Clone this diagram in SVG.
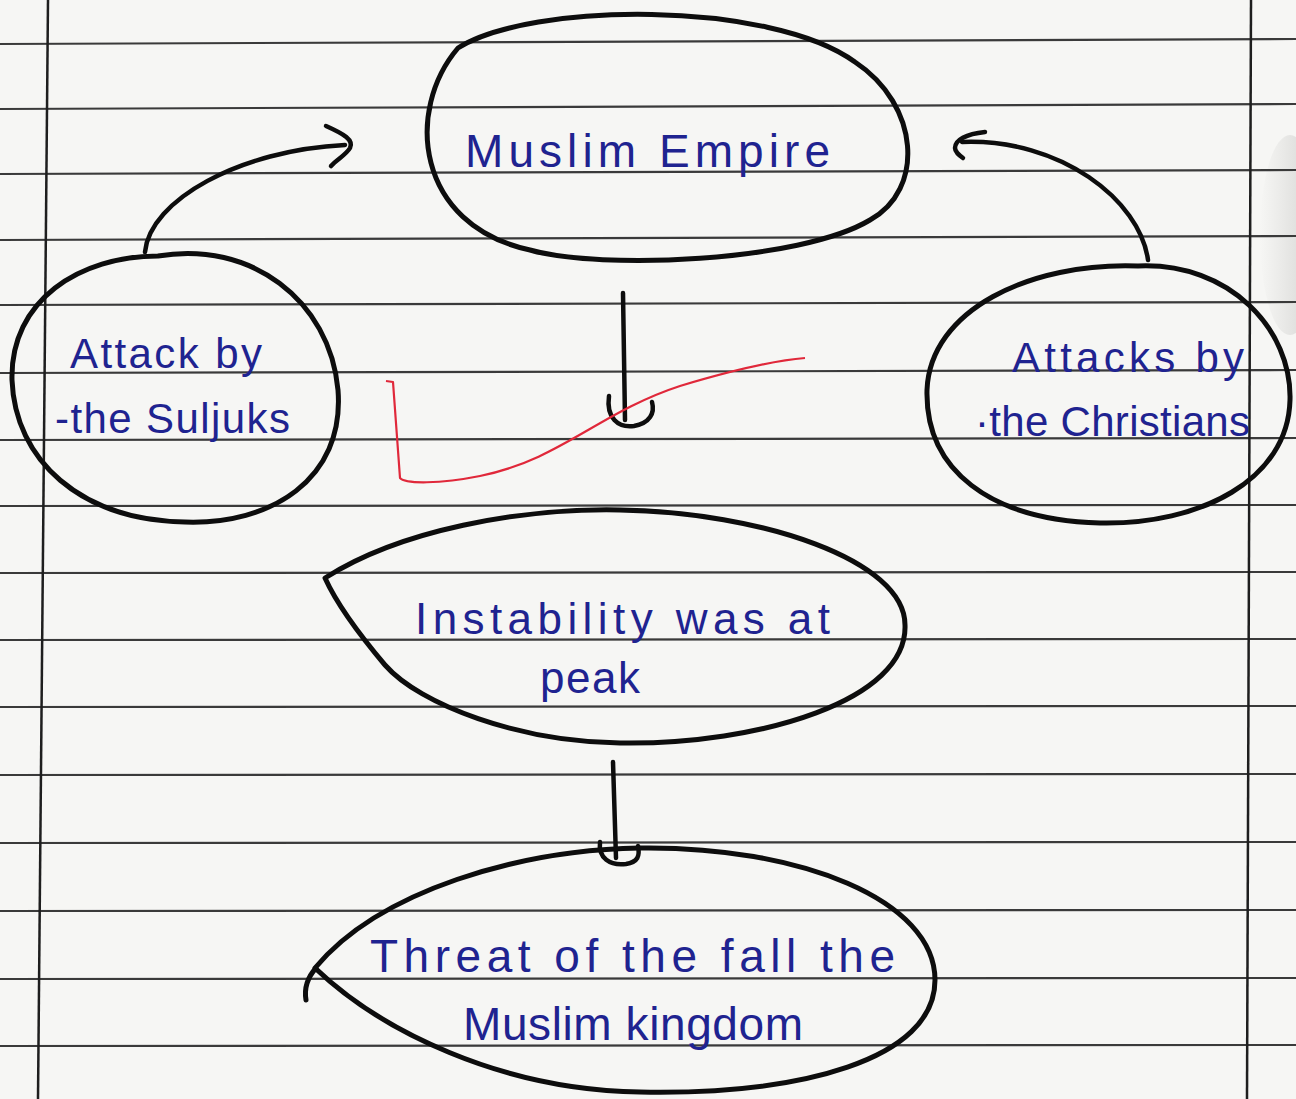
<svg xmlns="http://www.w3.org/2000/svg" width="1296" height="1099" viewBox="0 0 1296 1099">
<style>
.rule{stroke:#3a3a3a;stroke-width:2.2;fill:none}
.margin{stroke:#1e1e1e;stroke-width:2.5;fill:none}
.node{fill:none;stroke:#0d0d0d;stroke-width:5;stroke-linejoin:round;stroke-linecap:round}
.conn{fill:none;stroke:#0d0d0d;stroke-width:4.5;stroke-linecap:round;stroke-linejoin:round}
.ink{font-family:"Liberation Sans","DejaVu Sans",sans-serif;fill:#1f2390;font-weight:normal}
.red{fill:none;stroke:#e0283a;stroke-width:2.2;stroke-linejoin:round}
</style>
<defs>
<linearGradient id="shade" x1="0" y1="0" x2="1" y2="0">
<stop offset="0" stop-color="#d0d0ce" stop-opacity="0"/>
<stop offset="1" stop-color="#c8c8c6" stop-opacity="0.8"/>
</linearGradient>
</defs>
<rect width="1296" height="1099" fill="#f6f6f4"/>
<ellipse cx="1290" cy="235" rx="30" ry="100" fill="url(#shade)"/>
<g id="paper">
<path class="rule" d="M0,44 L1296,39"/>
<path class="rule" d="M0,109 L1296,104"/>
<path class="rule" d="M0,174 L1296,170"/>
<path class="rule" d="M0,240 L1296,236"/>
<path class="rule" d="M0,305 L1296,302"/>
<path class="rule" d="M0,373 L1296,370"/>
<path class="rule" d="M0,440 L1296,438"/>
<path class="rule" d="M0,506 L1296,505"/>
<path class="rule" d="M0,573 L1296,572"/>
<path class="rule" d="M0,640 L1296,639"/>
<path class="rule" d="M0,707 L1296,706"/>
<path class="rule" d="M0,775 L1296,774"/>
<path class="rule" d="M0,843 L1296,842"/>
<path class="rule" d="M0,911 L1296,910"/>
<path class="rule" d="M0,979 L1296,978"/>
<path class="rule" d="M0,1046 L1296,1045"/>
<path class="margin" d="M48,0 L38,1099"/>
<path class="margin" d="M1251,0 L1247,1099"/>
</g>
<g id="connectors">
<path class="conn" d="M145,252 C150,200 240,150 345,145"/>
<path class="conn" d="M326,126 C344,134 354,140 350,148 C346,155 336,160 331,166"/>
<path class="conn" d="M1148,260 C1140,200 1060,138 962,142"/>
<path class="conn" d="M985,132 C966,134 955,140 955,148 C955,152 959,155 963,158"/>
<path class="conn" d="M623,293 L625,420"/>
<path class="conn" d="M609,396 C606,418 618,428 634,426 C650,423 655,413 652,402"/>
<path class="conn" d="M613,762 L616,858"/>
<path class="conn" d="M600,842 C598,858 610,866 626,864 C638,862 640,856 638,846"/>
</g>
<g id="node-muslim-empire">
<path class="node" d="M458,48 C530,2 770,0 855,62 C920,105 925,190 870,220 C800,262 600,270 530,250 C415,225 405,110 458,48 Z"/>
<text class="ink" x="465" y="167" font-size="46" textLength="365" lengthAdjust="spacing">Muslim Empire</text>
</g>
<g id="node-suljuks">
<path class="node" d="M158,256 C250,240 330,300 338,390 C345,480 270,525 185,522 C80,520 15,460 12,380 C10,300 80,256 158,256 Z"/>
<text class="ink" x="70" y="368" font-size="42" textLength="192" lengthAdjust="spacing">Attack by</text>
<text class="ink" x="55" y="433" font-size="42" textLength="235" lengthAdjust="spacing">-the Suljuks</text>
</g>
<g id="node-christians">
<path class="node" d="M1138,266 C1230,262 1292,330 1290,400 C1288,480 1200,525 1100,523 C990,520 925,470 927,390 C930,310 1030,262 1138,266 Z"/>
<text class="ink" x="1012" y="372" font-size="42" textLength="232" lengthAdjust="spacing">Attacks by</text>
<text class="ink" x="975" y="436" font-size="42" textLength="275" lengthAdjust="spacing">·the Christians</text>
</g>
<g id="node-instability">
<path class="node" d="M325,578 C400,530 520,508 620,510 C760,512 905,560 905,625 C908,700 760,745 620,743 C520,742 420,705 385,665 C358,633 335,600 325,578 Z"/>
<text class="ink" x="415" y="634" font-size="44" textLength="415" lengthAdjust="spacing">Instability was at</text>
<text class="ink" x="540" y="693" font-size="44" textLength="100" lengthAdjust="spacing">peak</text>
</g>
<g id="node-threat">
<path class="node" d="M315,968 C380,890 520,850 640,848 C800,846 935,900 935,980 C935,1060 800,1095 640,1092 C500,1090 380,1030 315,968 Z"/>
<path class="node" d="M316,968 C307,978 304,988 306,1000"/>
<text class="ink" x="370" y="972" font-size="46" textLength="525" lengthAdjust="spacing">Threat of the fall the</text>
<text class="ink" x="463" y="1040" font-size="46" textLength="340" lengthAdjust="spacing">Muslim kingdom</text>
</g>
<path class="red" d="M386,381 L393,382 L400,478 C405,484 440,484 480,476 C560,460 600,412 680,386 C740,368 780,360 805,358"/>
</svg>
